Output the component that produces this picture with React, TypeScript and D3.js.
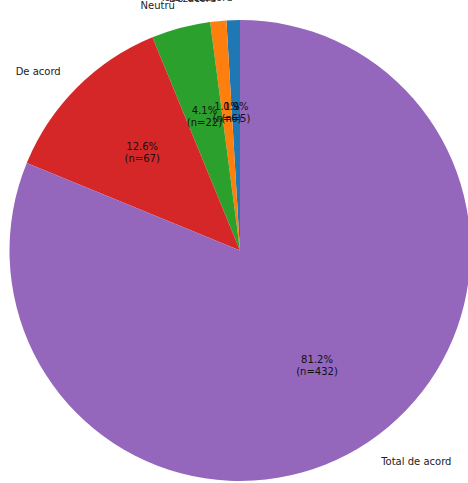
import { useEffect, useRef } from "react";
import * as d3 from "d3";

// responses, in plotting order (matplotlib default colour cycle)
const categories = ["Total dezacord", "Dezacord", "Neutru", "De acord", "Total de acord"];
const counts = [5, 6, 22, 67, 432];
const colors = ["#1f77b4", "#ff7f0e", "#2ca02c", "#d62728", "#9467bd"];

export default function App() {
  const ref = useRef<SVGSVGElement | null>(null);

  useEffect(() => {
    if (!ref.current) return;
    const svg = d3.select(ref.current);
    svg.selectAll("*").remove();

    const width = 468;
    const height = 483;
    const cx = 240;
    const cy = 250.5;
    const r = 230.5;
    const total = d3.sum(counts);

    const data = counts.map((c, i) => ({ name: categories[i], count: c, color: colors[i] }));

    // matplotlib: startangle=90, counter-clockwise
    const pie = d3
      .pie<any>()
      .sort(null)
      .value((d: any) => d.count)
      .startAngle(0)
      .endAngle(-2 * Math.PI);
    const arcs = pie(data);
    const arc = d3.arc<any>().innerRadius(0).outerRadius(r);

    const g = svg
      .attr("viewBox", `0 0 ${width} ${height}`)
      .attr("width", width)
      .attr("height", height)
      .append("g")
      .attr("transform", `translate(${cx},${cy})`);

    g.selectAll("path")
      .data(arcs)
      .join("path")
      .attr("d", arc as any)
      .attr("fill", (d: any) => d.data.color);

    const font = "DejaVu Sans, sans-serif";
    const mid = (d: any) => (d.startAngle + d.endAngle) / 2;
    // d3 angle: 0 at top, clockwise. convert to x,y
    const pos = (a: number, k: number) => [Math.sin(a) * r * k, -Math.cos(a) * r * k];

    // outer category labels
    g.selectAll("text.lab")
      .data(arcs)
      .join("text")
      .attr("class", "lab")
      .attr("x", (d: any) => pos(mid(d), 1.1)[0])
      .attr("y", (d: any) => pos(mid(d), 1.1)[1])
      .attr("text-anchor", (d: any) => (pos(mid(d), 1.1)[0] < 0 ? "end" : "start"))
      .attr("dominant-baseline", "central")
      .attr("font-family", font)
      .attr("font-size", 10)
      .attr("fill", "#222")
      .text((d: any) => d.data.name);

    // percentage labels
    const pct = g
      .selectAll("text.pct")
      .data(arcs)
      .join("text")
      .attr("class", "pct")
      .attr("text-anchor", "middle")
      .attr("font-family", font)
      .attr("font-size", 10)
      .attr("fill", "#111");
    pct
      .append("tspan")
      .attr("x", (d: any) => pos(mid(d), 0.6)[0])
      .attr("y", (d: any) => pos(mid(d), 0.6)[1] - 2.5)
      .text((d: any) => `${((d.data.count / total) * 100).toFixed(1)}%`);
    pct
      .append("tspan")
      .attr("x", (d: any) => pos(mid(d), 0.6)[0])
      .attr("y", (d: any) => pos(mid(d), 0.6)[1] + 9.5)
      .text((d: any) => `(n=${d.data.count})`);
  }, []);

  return (
    <svg
      ref={ref}
      style={{ position: "absolute", left: 0, top: 0, background: "#fff" }}
    />
  );
}
